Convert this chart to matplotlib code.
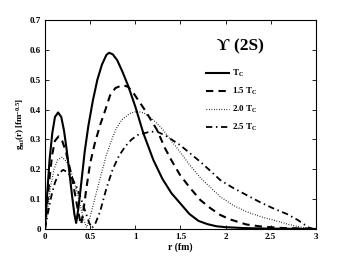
import matplotlib
matplotlib.use('Agg')
import matplotlib.pyplot as plt

# Values
r_tc = [0, 0.02, 0.05, 0.08, 0.11, 0.145, 0.18, 0.21, 0.24, 0.27, 0.30, 0.325, 0.345,
        0.37, 0.40, 0.44, 0.48, 0.53, 0.58, 0.63, 0.68, 0.71, 0.75, 0.80, 0.86, 0.92,
        1.0, 1.09, 1.2, 1.3, 1.4, 1.5, 1.6, 1.7, 1.8, 1.9, 2.0, 2.2, 2.5, 3.0]
g_tc = [0, 0.10, 0.23, 0.32, 0.375, 0.39, 0.375, 0.33, 0.265, 0.19, 0.11, 0.05, 0.02,
        0.07, 0.15, 0.26, 0.345, 0.43, 0.50, 0.55, 0.583, 0.59, 0.585, 0.565, 0.525, 0.48,
        0.41, 0.32, 0.231, 0.168, 0.12, 0.085, 0.05, 0.027, 0.016, 0.009, 0.006, 0.003, 0.001, 0.0]

r_15 = [0, 0.02, 0.05, 0.08, 0.11, 0.15, 0.19, 0.23, 0.27, 0.30, 0.33, 0.36, 0.39, 0.40,
        0.42, 0.46, 0.50, 0.55, 0.61, 0.67, 0.72, 0.78, 0.86, 0.92, 0.98, 1.04, 1.107,
        1.24, 1.33, 1.4, 1.495, 1.6, 1.72, 1.83, 1.94, 2.05, 2.23, 2.4, 2.64, 2.95]
g_15 = [0, 0.07, 0.17, 0.25, 0.295, 0.31, 0.295, 0.26, 0.21, 0.17, 0.12, 0.07, 0.025, 0.015,
        0.05, 0.14, 0.22, 0.285, 0.348, 0.40, 0.447, 0.472, 0.482, 0.476, 0.455, 0.428, 0.398,
        0.332, 0.27, 0.23, 0.181, 0.14, 0.097, 0.07, 0.047, 0.032, 0.015, 0.008, 0.003, 0.001]

r_20 = [0, 0.03, 0.06, 0.10, 0.14, 0.19, 0.24, 0.29, 0.34, 0.39, 0.43, 0.46, 0.50, 0.55,
        0.61, 0.68, 0.74, 0.79, 0.85, 0.94, 1.02, 1.10, 1.2, 1.3, 1.4, 1.495, 1.6, 1.72,
        1.83, 1.94, 2.08, 2.23, 2.4, 2.55, 2.7, 2.85, 2.93]
g_20 = [0, 0.07, 0.14, 0.20, 0.232, 0.24, 0.225, 0.19, 0.14, 0.08, 0.03, 0.005, 0.04, 0.10,
        0.17, 0.248, 0.30, 0.337, 0.365, 0.387, 0.394, 0.388, 0.365, 0.335, 0.295, 0.258, 0.215, 0.172,
        0.14, 0.108, 0.08, 0.058, 0.04, 0.028, 0.015, 0.005, 0.001]

r_25 = [0, 0.03, 0.07, 0.11, 0.15, 0.20, 0.25, 0.30, 0.35, 0.40, 0.45, 0.49, 0.52, 0.56,
        0.61, 0.68, 0.75, 0.82, 0.89, 0.96, 1.03, 1.09, 1.17, 1.25, 1.35, 1.495, 1.6, 1.72,
        1.83, 1.94, 2.08, 2.23, 2.38, 2.52, 2.68, 2.8, 2.92, 2.97]
g_25 = [0, 0.05, 0.11, 0.155, 0.185, 0.198, 0.19, 0.17, 0.14, 0.10, 0.055, 0.02, 0.003, 0.02,
        0.058, 0.136, 0.2, 0.245, 0.277, 0.30, 0.315, 0.32, 0.326, 0.325, 0.31, 0.281, 0.255, 0.225,
        0.195, 0.164, 0.138, 0.114, 0.09, 0.07, 0.05, 0.03, 0.005, 0.0]

labels = ['T$_{\\rm C}$', '1.5 T$_{\\rm C}$', '2.0 T$_{\\rm C}$', '2.5 T$_{\\rm C}$']
xticks = [0, 0.5, 1, 1.5, 2, 2.5, 3]
xticklabels = ['0', '0.5', '1', '1.5', '2', '2.5', '3']
yticks = [0, 0.1, 0.2, 0.3, 0.4, 0.5, 0.6, 0.7]
yticklabels = ['0', '0.1', '0.2', '0.3', '0.4', '0.5', '0.6', '0.7']

plt.rcParams['font.family'] = ['Liberation Serif', 'DejaVu Serif']
plt.rcParams['font.weight'] = 'bold'
plt.rcParams['mathtext.fontset'] = 'custom'
plt.rcParams['mathtext.rm'] = 'Liberation Serif:bold'
plt.rcParams['mathtext.it'] = 'Liberation Serif:bold'
plt.rcParams['mathtext.bf'] = 'Liberation Serif:bold'

fig = plt.figure(figsize=(3.49, 2.59), dpi=100)
ax = fig.add_axes([0.129, 0.116, 0.776, 0.807])

ax.plot(r_tc, g_tc, color='black', linestyle='-', linewidth=1.5, label=labels[0])
ax.plot(r_15, g_15, color='black', linestyle=(0, (3.5, 2.5)), linewidth=1.5, label=labels[1])
ax.plot(r_20, g_20, color='black', linestyle=(0, (0.6, 1.4)), linewidth=0.9, label=labels[2])
ax.plot(r_25, g_25, color='black', linestyle=(0, (3.5, 2, 0.8, 2)), linewidth=1.3, label=labels[3])

ax.set_xlim(0, 3)
ax.set_ylim(0, 0.7)
ax.set_xticks(xticks)
ax.set_xticklabels(xticklabels)
ax.set_yticks(yticks)
ax.set_yticklabels(yticklabels)
ax.tick_params(direction='in', top=True, right=True, labelsize=6.5, length=3, width=0.6, pad=3)
for s in ax.spines.values():
    s.set_linewidth(0.8)

ax.set_xlabel('r (fm)', fontsize=7, fontweight='bold', labelpad=1)
ax.set_ylabel('g$_{\\rm nl}$(r) [fm$^{-0.5}$]', fontsize=6.5, fontweight='bold', labelpad=2)

ax.text(0.72, 0.875, '\u03d2 (2S)', transform=ax.transAxes, ha='center', va='center',
        fontsize=12.5, fontweight='bold', family=['Liberation Serif', 'DejaVu Serif'])

ax.legend(loc='upper left', bbox_to_anchor=(0.594, 0.77), frameon=False, fontsize=6.5,
          handlelength=2.6, handletextpad=0.3, labelspacing=0.75, borderpad=0,
          borderaxespad=0)

fig.savefig('out.png', dpi=100)
